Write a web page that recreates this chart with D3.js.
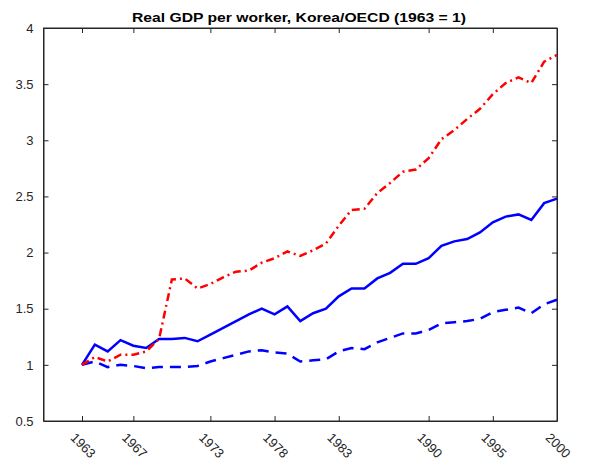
<!DOCTYPE html>
<html>
<head>
<meta charset="utf-8">
<script src="https://cdn.jsdelivr.net/npm/d3@7"></script>
<style>
	body { margin: 0; background: #fff; }
	svg { display: block; font-family: "Liberation Sans", Arial, sans-serif; }
	.axis path, .axis line { stroke: #262626; }
	.axis text { fill: #262626; font-size: 13px; }
	.line { fill: none; stroke-width: 2.5; }
</style>
</head>
<body>
<div id="chart"></div>
<script>
let years		= [1963, 1964, 1965, 1966, 1967, 1968, 1969, 1970, 1971, 1972, 1973, 1974, 1975, 1976, 1977, 1978, 1979, 1980, 1981,
				   1982, 1983, 1984, 1985, 1986, 1987, 1988, 1989, 1990, 1991, 1992, 1993, 1994, 1995, 1996, 1997, 1998, 1999, 2000];
let solidBlue	= [1.00, 1.18, 1.12, 1.22, 1.17, 1.15, 1.23, 1.23, 1.24, 1.21, 1.27, 1.33, 1.39, 1.45, 1.50, 1.45, 1.52, 1.39, 1.46,
				   1.50, 1.61, 1.68, 1.68, 1.77, 1.82, 1.90, 1.90, 1.95, 2.06, 2.10, 2.12, 2.18, 2.27, 2.32, 2.34, 2.29, 2.44, 2.48];
let dashDotRed	= [1.00, 1.07, 1.03, 1.09, 1.09, 1.12, 1.23, 1.76, 1.77, 1.68, 1.72, 1.78, 1.83, 1.84, 1.91, 1.95, 2.01, 1.97, 2.02,
				   2.08, 2.24, 2.38, 2.39, 2.53, 2.62, 2.72, 2.74, 2.84, 3.01, 3.09, 3.19, 3.28, 3.41, 3.51, 3.56, 3.51, 3.70, 3.76];
let dashedBlue	= [1.00, 1.03, 0.98, 1.00, 0.99, 0.97, 0.98, 0.98, 0.98, 0.99, 1.03, 1.06, 1.09, 1.12, 1.13, 1.11, 1.10, 1.03, 1.04,
				   1.05, 1.12, 1.15, 1.14, 1.20, 1.24, 1.28, 1.28, 1.31, 1.37, 1.38, 1.39, 1.41, 1.47, 1.49, 1.51, 1.46, 1.54, 1.58];
let xTicks		= [1963, 1967, 1973, 1978, 1983, 1990, 1995, 2000];
let yTicks		= [0.5, 1, 1.5, 2, 2.5, 3, 3.5, 4];
let title		= "Real GDP per worker, Korea/OECD (1963 = 1)";

let canvasWidth		= 591;
let canvasHeight	= 466;
let margin			= { top: 28, right: 34, bottom: 45, left: 43.5 };
let width			= canvasWidth - margin.left - margin.right;
let height			= canvasHeight - margin.top - margin.bottom;

let x	= d3.scaleLinear().range([0, width]).domain([1960, 2000]);
let y	= d3.scaleLinear().range([height, 0]).domain([0.5, 4]);

let svg = d3.select("#chart").append("svg")
	.attr("width", canvasWidth)
	.attr("height", canvasHeight);

// the reference title is set wide, stretch it to the same span
svg.append("text")
	.attr("x", 132)
	.attr("y", 22)
	.attr("font-weight", "bold")
	.attr("font-size", "13px")
	.attr("fill", "#000")
	.attr("textLength", 334)
	.attr("lengthAdjust", "spacingAndGlyphs")
	.text(title);

let g = svg.append("g")
	.attr("transform", "translate(" + margin.left + "," + margin.top + ")");

// box + inward ticks, matlab style
g.append("rect")
	.attr("width", width)
	.attr("height", height)
	.attr("fill", "none")
	.attr("stroke", "#262626");

let xAxis = g.append("g")
	.attr("class", "x axis")
	.attr("transform", "translate(0," + height + ")")
	.call(d3.axisBottom(x).tickValues(xTicks).tickSize(-5).tickSizeOuter(0).tickFormat(d3.format("d")));

xAxis.selectAll("text")
	.attr("text-anchor", "start")
	.attr("x", -3)
	.attr("y", 15)
	.attr("dy", 0)
	.attr("transform", "translate(0,9) rotate(45)");

g.append("g")
	.attr("class", "axis")
	.call(d3.axisTop(x).tickValues(xTicks).tickSize(-5).tickSizeOuter(0).tickFormat(""));

g.append("g")
	.attr("class", "y axis")
	.call(d3.axisLeft(y).tickValues(yTicks).tickSize(-5).tickSizeOuter(0).tickPadding(10).tickFormat((o) => o));

g.append("g")
	.attr("class", "axis")
	.attr("transform", "translate(" + width + ",0)")
	.call(d3.axisRight(y).tickValues(yTicks).tickSize(-5).tickSizeOuter(0).tickFormat(""));

let series = [
	{ values: solidBlue, color: "#0000ff", dash: null },
	{ values: dashedBlue, color: "#0000ff", dash: "11,7" },
	{ values: dashDotRed, color: "#ff0000", dash: "8,4,2,4" }
];

let line = d3.line()
	.x((o) => x(o.year))
	.y((o) => y(o.value));

series.forEach((s) => {
	let data = years.map((yr, i) => ({ year: yr, value: s.values[i] }));
	g.append("path")
		.datum(data)
		.attr("class", "line")
		.attr("stroke", s.color)
		.attr("stroke-dasharray", s.dash)
		.attr("d", line);
});
</script>
</body>
</html>
